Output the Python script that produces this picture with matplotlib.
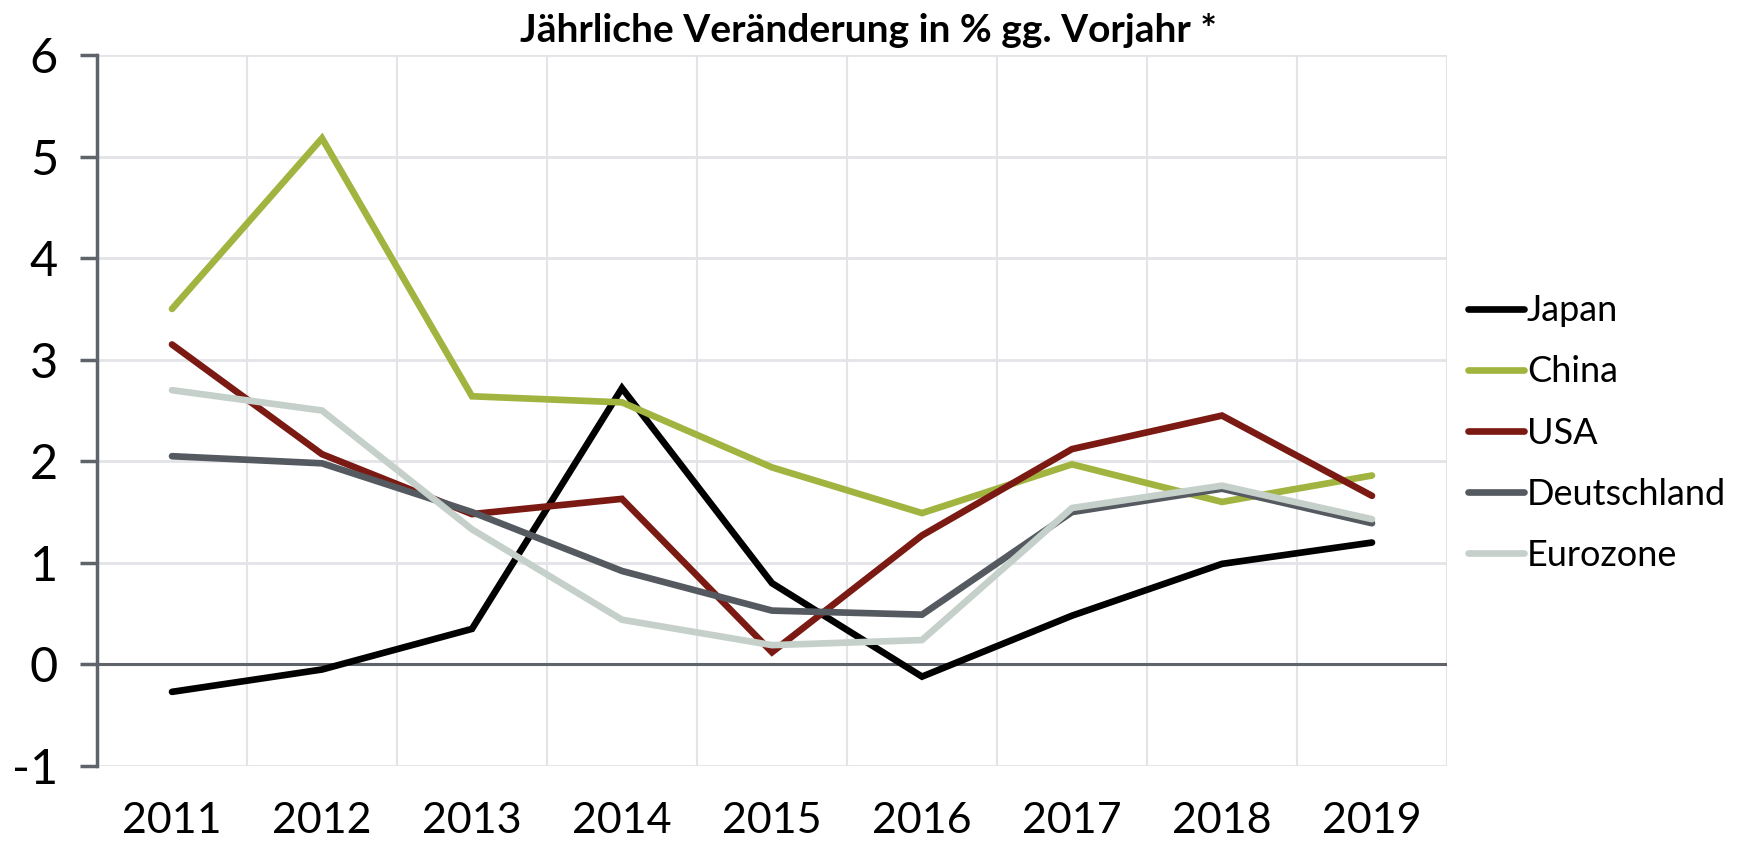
import matplotlib
matplotlib.use("Agg")
import matplotlib.pyplot as plt
import numpy as np

years = ["2011", "2012", "2013", "2014", "2015", "2016", "2017", "2018", "2019"]
japan = [-0.27, -0.05, 0.35, 2.72, 0.80, -0.12, 0.48, 0.99, 1.20]
china = [3.50, 5.18, 2.64, 2.58, 1.94, 1.49, 1.97, 1.60, 1.86]
usa = [3.15, 2.07, 1.48, 1.63, 0.12, 1.27, 2.12, 2.45, 1.66]
deutschland = [2.05, 1.98, 1.50, 0.92, 0.53, 0.49, 1.50, 1.73, 1.39]
eurozone = [2.70, 2.50, 1.33, 0.44, 0.19, 0.24, 1.54, 1.76, 1.43]
series_names = ["Japan", "China", "USA", "Deutschland", "Eurozone"]
colors = ["#000000", "#a2b440", "#7b1a13", "#555a61", "#c6d0ca"]
yticks = [-1, 0, 1, 2, 3, 4, 5, 6]
title = "Jährliche Veränderung in % gg. Vorjahr *"

plt.rcParams['font.family'] = ['Lato', 'DejaVu Sans']

fig = plt.figure(figsize=(17.37, 8.42), dpi=100)
ax = fig.add_axes([97/1737, 1-766/842, (1447-97)/1737, (766-55)/842])

x = np.arange(len(years)) + 0.5
for i, (name, vals) in enumerate(zip(series_names, [japan, china, usa, deutschland, eurozone])):
    ax.plot(x, vals, color=colors[i], lw=4.8, label=name, solid_capstyle='round',
            solid_joinstyle='miter', zorder=3 + i)

ax.set_xlim(0, len(years))
ax.set_ylim(-1, 6)
ax.set_yticks(yticks)
ax.set_yticklabels([str(t) for t in yticks], fontsize=35)
ax.set_xticks(x)
ax.set_xticklabels(years, fontsize=31)
ax.tick_params(axis='x', which='both', length=0, pad=26)
ax.tick_params(axis='y', length=12, width=2.5, color="#5f636a", pad=16, direction='out')

ax.grid(False)
for xv in np.arange(1, len(years) + 1):
    ax.axvline(xv, color="#e3e4e8", lw=1.5, zorder=1)
for yv in yticks:
    if yv != 0:
        ax.axhline(yv, color="#e3e4e8", lw=2, zorder=1)
ax.axhline(0, color="#5f636a", lw=2.2, zorder=2)

for s in ["top", "right", "bottom"]:
    ax.spines[s].set_visible(False)
ax.spines["left"].set_color("#5f636a")
ax.spines["left"].set_linewidth(2.5)
ax.spines["left"].set_zorder(2.5)

leg = fig.legend(loc="center left", bbox_to_anchor=(1468/1737, 1-433/842), frameon=False,
                 fontsize=26, handlelength=1.55, handletextpad=0.08, labelspacing=0.78,
                 borderaxespad=0, borderpad=0)

fig.text(0.5, 1-31/842, title, ha="center", va="center", fontsize=28, fontweight="bold")

fig.savefig("out.png", dpi=100)
